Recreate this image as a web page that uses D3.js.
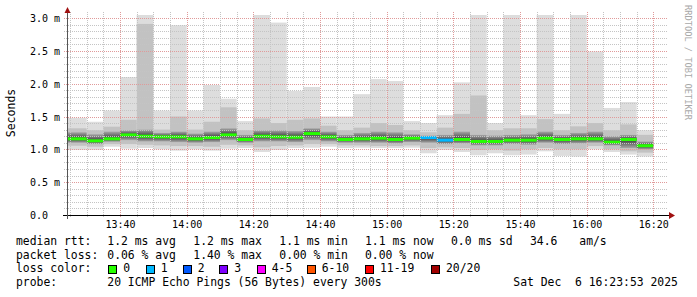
<!DOCTYPE html>
<html>
<head>
<meta charset="utf-8">
<script src="https://cdn.jsdelivr.net/npm/d3@7"></script>
<style>
body { margin: 0; background: #fff; }
svg text { font-family: "DejaVu Sans Mono", monospace; white-space: pre; }
</style>
</head>
<body>
<script>
// 5 minute buckets, start time of each step
var times = ["13:20","13:25","13:30","13:35","13:40","13:45","13:50","13:55","14:00","14:05",
             "14:10","14:15","14:20","14:25","14:30","14:35","14:40","14:45","14:50","14:55",
             "15:00","15:05","15:10","15:15","15:20","15:25","15:30","15:35","15:40","15:45",
             "15:50","15:55","16:00","16:05","16:10","16:15"];

// rtt in ms: smoke bands (outer -> inner) and median
var pingMax = [1.48,1.48,1.42,1.59,2.10,3.3,1.59,2.89,1.59,1.98,1.77,1.43,3.3,2.93,1.89,1.95,1.50,1.50,1.84,2.07,
               2.04,1.43,1.40,1.52,2.02,3.3,1.40,3.3,1.52,3.3,1.54,3.3,2.49,1.63,1.72,1.29];
var pingUp2 = [1.32,1.32,1.29,1.345,1.45,2.91,1.30,1.50,1.30,1.42,1.64,1.29,1.47,1.40,1.45,1.47,1.36,1.29,1.33,1.40,
               1.37,1.29,1.26,1.33,1.54,1.82,1.29,1.32,1.32,1.46,1.29,1.35,1.40,1.29,1.38,1.22];
var pingUp1 = [1.26,1.26,1.23,1.27,1.29,1.30,1.25,1.27,1.24,1.27,1.32,1.22,1.29,1.29,1.28,1.32,1.27,1.22,1.25,1.27,
               1.26,1.23,1.21,1.22,1.27,1.22,1.21,1.22,1.23,1.27,1.22,1.25,1.27,1.20,1.22,1.12];
var median  = [1.16,1.16,1.13,1.16,1.22,1.20,1.19,1.19,1.16,1.18,1.22,1.15,1.20,1.19,1.185,1.24,1.19,1.15,1.16,1.17,
               1.15,1.17,1.18,1.14,1.15,1.12,1.12,1.14,1.14,1.17,1.15,1.16,1.16,1.11,1.15,1.055];
var pingLo1 = [1.10,1.10,1.08,1.115,1.14,1.12,1.12,1.11,1.10,1.11,1.14,1.10,1.12,1.12,1.11,1.14,1.12,1.10,1.10,1.10,
               1.09,1.11,1.10,1.08,1.09,1.06,1.06,1.08,1.07,1.10,1.08,1.09,1.10,1.06,1.02,1.00];
var pingLo2 = [1.055,1.055,1.04,1.08,1.08,1.07,1.06,1.05,1.05,1.04,1.07,1.06,1.03,1.05,1.06,1.08,1.08,1.06,1.06,1.05,
               1.05,1.06,1.02,1.03,1.02,0.99,1.00,0.98,1.00,1.02,1.00,1.00,1.05,1.00,0.97,0.95];
var pingMin = [0.99,0.99,0.99,1.04,1.01,1.02,1.00,0.98,1.00,0.98,1.01,1.02,0.96,0.99,1.02,1.025,1.04,1.02,1.025,1.02,
               1.02,1.025,0.94,0.99,0.96,0.91,0.94,0.91,0.92,0.97,0.90,0.89,1.00,0.96,0.92,0.89];
// lost pings out of 20 for each step
var lost    = [0,0,0,0,0,0,0,0,0,0,0,0,0,0,0,0,0,0,0,0,0,0,1,1,0,0,0,0,0,0,0,0,0,0,0,0];

var lossLabels = ["0","1","2","3","4-5","6-10","11-19","20/20"];
var lossColors = ["#26ff00","#00b8ff","#0059ff","#7e00ff","#ff00ff","#ff5500","#ff0000","#a10000"];

var yTicks = [0, 0.5, 1.0, 1.5, 2.0, 2.5, 3.0];
var xTicks = ["13:40","14:00","14:20","14:40","15:00","15:20","15:40","16:00","16:20"];

var rttStats  = ["1.2 ms avg", "1.2 ms max", "1.1 ms min", "1.1 ms now", "0.0 ms sd", "34.6", "am/s"];
var lossStats = ["0.06 % avg", "1.40 % max", "0.00 % min", "0.00 % now"];
var probeText = "20 ICMP Echo Pings (56 Bytes) every 300s";
var stamp = "Sat Dec  6 16:23:53 2025";

var width = 697, height = 297;
var plotL = 67, plotR = 667, plotT = 15, plotB = 215;

function t(s) {
  var p = s.split(":");
  return new Date(Date.UTC(2025, 11, 6, +p[0], +p[1]));
}
var step = 5 * 60 * 1000;

var x = d3.scaleUtc()
    .domain([new Date(Date.UTC(2025, 11, 6, 13, 24, 6)), new Date(Date.UTC(2025, 11, 6, 16, 24, 6))])
    .range([plotL, plotR]);
var y = d3.scaleLinear().domain([0, 3]).range([plotB, 18]);

var svg = d3.select("body").append("svg")
    .attr("width", width)
    .attr("height", height);

var defs = svg.append("defs");
defs.append("clipPath").attr("id", "plot")
  .append("rect").attr("x", plotL).attr("y", plotT).attr("width", plotR - plotL).attr("height", plotB - plotT);

// dotted grid patterns (1 on, 1 off)
[["dotH", 2, 1, "#c4c4c4"], ["dotHR", 2, 1, "#e09a9a"], ["dotV", 1, 2, "#c4c4c4"], ["dotVR", 1, 2, "#e09a9a"]]
  .forEach(function(p) {
    defs.append("pattern").attr("id", p[0]).attr("patternUnits", "userSpaceOnUse")
      .attr("width", p[1]).attr("height", p[2])
      .append("rect").attr("width", 1).attr("height", 1).attr("fill", p[3]);
  });

// inner smoke gets darker toward the median
times.forEach(function(d, i) {
  var m = (y(median[i]) - y(pingUp1[i])) / (y(pingLo1[i]) - y(pingUp1[i]));
  var g = defs.append("linearGradient").attr("id", "sm" + i)
    .attr("x1", 0).attr("y1", 0).attr("x2", 0).attr("y2", 1);
  g.append("stop").attr("offset", 0).attr("stop-color", "#a6a6a6");
  g.append("stop").attr("offset", m).attr("stop-color", "#3a3a3a");
  g.append("stop").attr("offset", 1).attr("stop-color", "#a6a6a6");
});

var plot = svg.append("g").attr("clip-path", "url(#plot)");

// smoke, outer band first
var bands = [[pingMin, pingMax, "#dddddd"], [pingLo2, pingUp2, "#c2c2c2"], [pingLo1, pingUp1, null]];
bands.forEach(function(b) {
  plot.append("g").selectAll("rect")
    .data(times)
    .enter().append("rect")
    .attr("x", function(d) { return x(t(d)); })
    .attr("width", function(d) { return x(new Date(+t(d) + step)) - x(t(d)); })
    .attr("y", function(d, i) { return y(b[1][i]); })
    .attr("height", function(d, i) { return y(b[0][i]) - y(b[1][i]); })
    .attr("fill", function(d, i) { return b[2] || "url(#sm" + i + ")"; });
});

// grid
var grid = svg.append("g");
var minorY = d3.range(0, 31).map(function(d) { return d / 10; });
grid.selectAll(".hy").data(minorY).enter().append("rect")
  .attr("x", 63).attr("width", plotR + 1 - 63)
  .attr("y", function(d) { return Math.round(y(d)); })
  .attr("height", 1)
  .attr("fill", function(d, i) { return i % 5 == 0 ? "url(#dotHR)" : "url(#dotH)"; });

var minorX = d3.utcMinute.every(5).range(x.domain()[0], x.domain()[1]);
grid.selectAll(".vx").data(minorX).enter().append("rect")
  .attr("y", 12).attr("height", plotB + 2 - 12)
  .attr("x", function(d) { return Math.round(x(d)); })
  .attr("width", 1)
  .attr("fill", function(d) { return d.getUTCMinutes() % 20 == 0 ? "url(#dotVR)" : "url(#dotV)"; });

// median line coloured by loss
function lossIndex(n) {
  if (n <= 3) return n;
  if (n <= 5) return 4;
  if (n <= 10) return 5;
  if (n <= 19) return 6;
  return 7;
}
plot.append("g").selectAll("line")
  .data(times)
  .enter().append("line")
  .attr("x1", function(d) { return x(t(d)); })
  .attr("x2", function(d) { return x(new Date(+t(d) + step)); })
  .attr("y1", function(d, i) { return y(median[i]); })
  .attr("y2", function(d, i) { return y(median[i]); })
  .attr("stroke", function(d, i) { return lossColors[lossIndex(lost[i])]; })
  .attr("stroke-width", 3);

// axes
var yAxis = svg.append("g")
    .attr("transform", "translate(" + plotL + ",0)")
    .call(d3.axisLeft(y).tickValues(yTicks).tickSize(0)
      .tickFormat(function(d) { return d == 0 ? "0.0" : d3.format(".1f")(d) + " m"; }));
yAxis.select(".domain").remove();
yAxis.selectAll("text")
  .attr("x", 30 - plotL).attr("dy", "0.35em")
  .attr("text-anchor", "start")
  .attr("font-size", 10).attr("font-family", "DejaVu Sans Mono").attr("fill", "#000");

var xAxis = svg.append("g")
    .attr("transform", "translate(0," + plotB + ")")
    .call(d3.axisBottom(x).tickValues(xTicks.map(t)).tickSize(0)
      .tickFormat(d3.utcFormat("%H:%M")));
xAxis.select(".domain").remove();
xAxis.selectAll("text")
  .attr("y", 13).attr("dy", 0)
  .attr("font-size", 10).attr("font-family", "DejaVu Sans Mono").attr("fill", "#000");

svg.append("line").attr("x1", 63).attr("x2", 670).attr("y1", plotB + 0.5).attr("y2", plotB + 0.5)
  .attr("stroke", "#000").attr("shape-rendering", "crispEdges");
svg.append("line").attr("x1", plotL + 0.5).attr("x2", plotL + 0.5).attr("y1", plotB + 4).attr("y2", 10)
  .attr("stroke", "#555").attr("shape-rendering", "crispEdges");
svg.append("path").attr("d", "M64.5,13L67.5,7L70.5,13Z").attr("fill", "#a01010");
svg.append("path").attr("d", "M669,212L675,215.5L669,219Z").attr("fill", "#a01010");

// titles
svg.append("text")
  .attr("transform", "translate(15,113) rotate(-90)")
  .attr("text-anchor", "middle")
  .attr("font-size", 11.5)
  .text("Seconds");
svg.append("text")
  .attr("transform", "translate(684.5,5) rotate(90)")
  .attr("font-size", 8.7)
  .attr("fill", "#a8a8a8")
  .text("RRDTOOL / TOBI OETIKER");

// legend
var lg = svg.append("g").attr("font-size", 11.4).attr("fill", "#000");
var statX = [107.3, 193.3, 279.3, 365, 451, 530, 579.3];
lg.append("text").attr("x", 16).attr("y", 245).text("median rtt:");
rttStats.forEach(function(s, i) { lg.append("text").attr("x", statX[i]).attr("y", 245).text(s); });
lg.append("text").attr("x", 16).attr("y", 258.7).text("packet loss:");
lossStats.forEach(function(s, i) { lg.append("text").attr("x", statX[i]).attr("y", 258.7).text(s); });
lg.append("text").attr("x", 16).attr("y", 272.4).text("loss color:");
var boxX = [108.3, 145.7, 182.7, 219.3, 256.7, 306.7, 365, 431];
lossLabels.forEach(function(s, i) {
  lg.append("rect").attr("x", Math.round(boxX[i]) + 0.5).attr("y", 265.5).attr("width", 8).attr("height", 8)
    .attr("fill", lossColors[i]).attr("stroke", "#000").attr("stroke-width", 1);
  lg.append("text").attr("x", boxX[i] + 15).attr("y", 272.4).text(s);
});
lg.append("text").attr("x", 16).attr("y", 286).text("probe:");
lg.append("text").attr("x", 107.3).attr("y", 286).text(probeText);
lg.append("text").attr("x", 513.3).attr("y", 286).text(stamp);
</script>
</body>
</html>
